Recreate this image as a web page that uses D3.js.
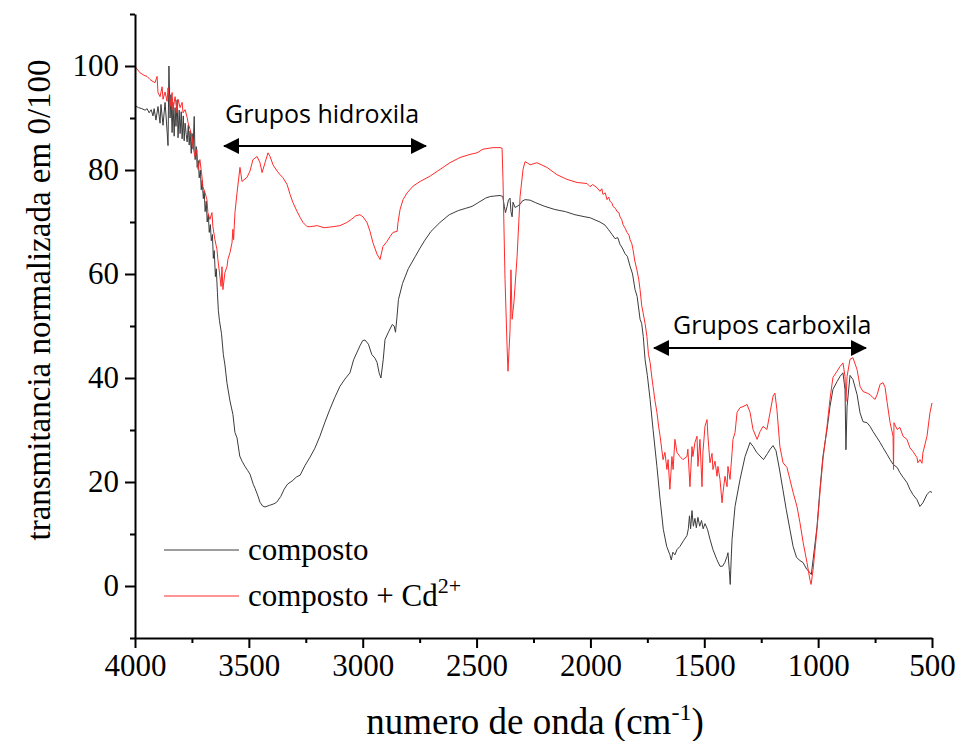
<!DOCTYPE html>
<html>
<head>
<meta charset="utf-8">
<script src="https://cdn.jsdelivr.net/npm/d3@7"></script>
<style>
  html, body { margin: 0; padding: 0; background: #fff; }
  svg { display: block; }
  .tick text { font-family: "Liberation Serif", "Times New Roman", serif; }
</style>
</head>
<body>
<svg id="chart" width="957" height="741"></svg>
<script>
// FTIR spectrum: composto (black) and composto + Cd2+ (red)
const compostoWn = [4000,3985,3970,3956,3947,3938,3929,3921,3916,3908,3899,3890,3886,3877,3868,3863,3855,3851,3846,3842,3837,3833,3828,3824,3820,3815,3811,3806,3802,3797,3793,3788,3784,3780,3775,3771,3766,3762,3758,3753,3749,3745,3740,3736,3731,3727,3722,3718,3713,3709,3705,3700,3696,3692,3687,3683,3678,3674,3669,3665,3660,3656,3652,3647,3643,3638,3634,3629,3620,3612,3605,3596,3583,3570,3561,3552,3540,3530,3517,3505,3495,3480,3473,3460,3451,3440,3429,3410,3390,3378,3360,3345,3330,3310,3290,3275,3253,3231,3210,3188,3166,3144,3122,3100,3078,3056,3040,3012,3000,2990,2975,2960,2946,2937,2928,2920,2910,2902,2885,2870,2862,2856,2850,2843,2825,2800,2770,2748,2727,2700,2661,2620,2580,2550,2520,2490,2460,2440,2420,2397,2385,2378,2373,2366,2360,2353,2349,2344,2340,2331,2322,2309,2300,2287,2265,2240,2200,2156,2110,2068,2024,2000,1980,1958,1936,1920,1905,1892,1880,1870,1860,1848,1838,1826,1815,1804,1795,1782,1775,1768,1760,1750,1738,1725,1708,1694,1680,1665,1651,1645,1638,1629,1620,1607,1590,1576,1570,1565,1560,1554,1548,1541,1535,1528,1520,1512,1505,1497,1486,1475,1462,1445,1431,1420,1410,1400,1396,1390,1386,1382,1378,1365,1343,1321,1299,1285,1270,1255,1240,1222,1211,1198,1185,1170,1155,1140,1124,1110,1095,1080,1066,1050,1036,1030,1022,1005,992,979,961,948,935,917,904,891,882,878,873,860,847,829,816,803,785,772,759,741,728,715,697,684,671,653,641,627,610,597,584,566,553,540,522,509,500];
const compostoT = [92.4,92.0,91.8,91.5,91.8,91.0,91.6,90.4,91.8,89.6,92.2,89.0,92.6,88.6,93.0,90.0,84.7,100.0,90.0,94.5,87.2,93.0,86.5,92.0,88.4,93.5,86.2,91.5,87.0,91.2,86.0,90.4,85.6,89.0,86.8,85.4,88.6,84.8,87.5,83.2,87.0,84.0,90.3,82.0,84.5,80.5,81.8,78.5,80.0,76.2,78.0,74.5,76.0,72.0,74.0,70.0,71.5,68.0,69.5,66.4,67.6,63.0,64.5,59.5,61.0,56.4,53.0,51.0,48.5,44.5,42.5,39.0,35.6,33.0,29.5,28.5,25.0,24.0,23.0,22.2,21.5,19.5,18.8,17.3,16.1,15.4,15.2,15.5,15.8,16.1,17.2,18.6,19.6,20.2,21.0,21.3,23.2,24.8,26.5,28.8,31.5,34.0,36.3,38.4,39.8,41.0,43.5,46.2,47.2,47.3,46.5,44.5,43.8,43.0,41.0,40.0,43.5,47.4,49.0,50.3,50.0,48.8,51.5,55.1,58.2,61.0,63.3,65.0,66.5,68.2,69.9,71.4,72.2,72.6,73.0,73.8,74.6,74.9,75.0,75.1,74.9,73.0,71.8,73.0,74.2,74.6,72.0,71.0,73.8,72.8,73.0,73.4,74.0,74.3,74.2,73.7,73.0,72.4,72.0,71.4,71.0,70.8,70.4,70.0,69.4,68.5,67.6,66.8,67.0,65.7,65.0,63.9,63.4,61.5,60.0,57.0,55.7,51.3,50.5,48.0,43.5,40.5,35.9,30.1,23.0,16.6,10.9,7.6,6.0,5.0,6.5,6.0,7.0,7.6,8.8,9.7,11.0,13.5,11.0,14.5,11.5,13.0,11.2,13.2,11.5,12.6,11.0,12.0,10.9,9.0,7.0,5.1,3.8,3.8,4.5,5.7,6.4,3.0,0.3,5.0,9.0,15.3,20.5,24.9,27.6,26.8,25.7,25.0,24.3,25.5,26.3,27.0,26.0,22.5,18.6,14.7,10.9,7.6,5.5,4.9,4.5,3.2,2.6,2.2,5.1,11.4,18.6,24.9,30.1,34.5,37.8,39.3,40.3,41.0,37.8,26.2,34.5,40.5,39.7,36.8,33.3,31.6,31.4,30.7,29.7,28.5,27.6,26.6,25.3,24.3,23.4,22.8,21.8,20.9,19.9,18.6,17.6,16.6,15.3,16.0,17.6,18.2,18.0];

const cdWn = [4000,3978,3960,3947,3934,3921,3912,3903,3899,3890,3881,3877,3868,3859,3855,3846,3837,3833,3824,3815,3811,3802,3793,3789,3780,3771,3767,3758,3749,3745,3737,3728,3723,3715,3706,3702,3693,3684,3680,3671,3662,3658,3649,3640,3636,3627,3622,3618,3614,3605,3596,3592,3583,3574,3570,3567,3561,3552,3539,3530,3508,3495,3482,3464,3451,3442,3429,3416,3407,3394,3376,3363,3350,3332,3319,3306,3288,3275,3262,3244,3231,3200,3170,3130,3100,3070,3050,3030,3012,2999,2981,2968,2955,2937,2924,2911,2893,2880,2867,2849,2845,2836,2823,2805,2779,2748,2705,2661,2617,2573,2529,2498,2472,2428,2397,2388,2384,2375,2366,2362,2353,2349,2344,2336,2322,2309,2296,2287,2278,2265,2235,2191,2147,2103,2059,2015,2002,1990,1971,1958,1950,1945,1935,1927,1920,1914,1905,1901,1890,1883,1875,1870,1862,1857,1850,1839,1830,1826,1818,1813,1805,1796,1788,1782,1775,1769,1760,1752,1745,1738,1730,1725,1716,1708,1700,1694,1681,1673,1664,1659,1651,1642,1637,1629,1620,1607,1594,1576,1572,1563,1554,1550,1541,1532,1528,1519,1510,1506,1497,1488,1484,1475,1466,1462,1453,1444,1440,1431,1422,1418,1409,1400,1396,1387,1378,1374,1365,1356,1343,1330,1312,1299,1286,1268,1255,1242,1225,1211,1198,1190,1181,1168,1154,1137,1124,1110,1093,1080,1066,1049,1036,1031,1022,1005,992,979,961,948,935,917,904,891,882,878,873,860,847,829,816,803,785,772,759,750,741,728,715,706,697,684,671,669,667,653,641,627,610,597,584,566,562,553,544,540,522,509,500];
const cdT = [99.9,98.7,98.2,98.0,97.4,97.0,96.8,98.0,94.9,94.1,96.0,93.6,95.0,93.2,95.8,92.2,94.9,91.6,94.1,91.0,93.6,92.0,93.0,91.0,91.6,90.1,89.1,87.8,86.3,84.5,82.6,83.9,80.1,82.0,78.8,76.8,75.7,74.3,71.8,70.5,71.8,69.1,66.6,64.7,62.8,59.5,57.6,61.4,57.0,60.3,61.4,62.8,64.1,66.0,68.6,66.6,71.8,75.6,80.5,77.8,78.6,79.8,82.0,82.6,81.4,79.5,81.4,83.3,82.6,81.0,79.8,79.1,78.5,77.2,75.3,73.7,72.0,70.9,69.9,69.1,69.1,69.3,68.9,69.1,69.3,69.9,70.5,71.2,71.4,71.0,69.9,68.2,66.0,63.8,62.8,65.3,66.3,67.2,68.0,68.2,69.9,72.4,74.3,75.6,76.9,77.8,78.8,80.1,81.4,82.4,83.0,83.3,84.0,84.3,84.3,84.2,78.2,58.9,46.0,41.3,49.3,60.8,51.3,54.5,63.4,74.9,80.1,81.6,81.4,81.0,81.4,80.5,79.1,78.2,77.6,77.4,76.8,77.2,76.6,75.9,76.4,75.3,75.6,74.3,74.8,74.0,73.6,73.0,72.6,72.0,71.8,71.0,70.4,69.5,69.0,68.0,67.4,66.6,65.8,64.7,62.5,60.8,59.0,57.0,54.0,52.6,50.5,48.0,44.5,43.0,40.0,38.4,35.5,33.4,30.5,28.8,24.3,25.7,22.4,24.3,18.6,24.9,22.4,28.2,25.7,24.9,24.3,24.9,26.3,19.1,26.8,24.9,27.6,28.8,23.0,28.2,19.1,25.7,30.7,32.0,28.8,23.7,25.5,22.4,24.0,21.1,23.0,20.5,16.0,17.9,21.1,19.1,23.0,20.5,25.7,28.2,29.5,33.4,34.3,34.5,34.9,33.4,30.1,28.2,29.7,30.7,30.1,33.4,36.5,37.1,33.9,26.8,23.7,22.8,20.5,18.0,15.3,12.2,8.4,4.5,1.2,0.3,3.2,10.9,18.0,24.3,30.7,35.9,40.1,41.3,42.2,42.9,40.3,35.5,40.3,43.6,43.9,41.6,38.4,37.4,37.1,36.8,36.2,35.9,36.8,38.8,39.1,38.2,35.3,31.4,28.8,22.4,31.4,30.1,30.5,28.8,28.2,26.6,25.9,24.7,23.7,24.3,23.6,25.6,28.8,33.3,35.2];

// Axis ticks
const xMajorTicks = [4000, 3500, 3000, 2500, 2000, 1500, 1000, 500];
const xMinorTicks = [3750, 3250, 2750, 2250, 1750, 1250, 750];
const yMajorTicks = [0, 20, 40, 60, 80, 100];
const yMinorTicks = [-10, 10, 30, 50, 70, 90, 110];

const svg = d3.select("#chart");
const serif = '"Liberation Serif", "Times New Roman", serif';
const sans = '"Open Sans", "Noto Sans", sans-serif';

const x = d3.scaleLinear().domain([4000, 500]).range([135, 932]);
const y = d3.scaleLinear().domain([-10, 110]).range([638, 14]);

// Spectra
const line = d3.line().x(d => x(d[0])).y(d => y(d[1]));
const series = [
  { wn: compostoWn, t: compostoT, color: "#3c3c3c" },
  { wn: cdWn, t: cdT, color: "#ff2a2a" }
];
series.forEach(s => {
  svg.append("path")
    .datum(s.wn.map((w, i) => [w, s.t[i]]))
    .attr("fill", "none")
    .attr("stroke", s.color)
    .attr("stroke-width", 1)
    .attr("stroke-linejoin", "round")
    .attr("d", line);
});

// X axis
const xAxis = svg.append("g").attr("transform", "translate(0,638)");
xAxis.call(d3.axisBottom(x).tickValues(xMajorTicks).tickSize(10).tickSizeOuter(0).tickPadding(6).tickFormat(d3.format("d")));
xAxis.append("g").call(d3.axisBottom(x).tickValues(xMinorTicks).tickSize(5).tickSizeOuter(0).tickFormat(""))
  .select(".domain").remove();

// Y axis
const yAxis = svg.append("g").attr("transform", "translate(135,0)");
yAxis.call(d3.axisLeft(y).tickValues(yMajorTicks).tickSize(10).tickSizeOuter(0).tickPadding(6).tickFormat(d3.format("d")));
yAxis.append("g").call(d3.axisLeft(y).tickValues(yMinorTicks).tickSize(5).tickSizeOuter(0).tickFormat(""))
  .select(".domain").remove();

svg.selectAll("g").attr("font-family", serif);
svg.selectAll(".domain, .tick line").attr("stroke", "#000").attr("stroke-width", 2);
svg.selectAll(".tick text").attr("font-family", serif).attr("font-size", 31).attr("fill", "#000");

// Axis titles
svg.append("text")
  .attr("transform", "translate(50,300) rotate(-90)")
  .attr("text-anchor", "middle")
  .attr("font-family", serif).attr("font-size", 33)
  .text("transmitancia normalizada em 0/100");

const xt = svg.append("text")
  .attr("x", 535).attr("y", 734)
  .attr("text-anchor", "middle")
  .attr("font-family", serif).attr("font-size", 37);
xt.append("tspan").text("numero de onda (cm");
xt.append("tspan").attr("dy", -14).attr("font-size", 24).text("-1");
xt.append("tspan").attr("dy", 14).text(")");

// Legend
const legend = svg.append("g");
[
  { y: 550, color: "#3c3c3c", label: "composto", sup: "" },
  { y: 596, color: "#ff2a2a", label: "composto + Cd", sup: "2+" }
].forEach(d => {
  legend.append("line")
    .attr("x1", 164).attr("x2", 239).attr("y1", d.y).attr("y2", d.y)
    .attr("stroke", d.color).attr("stroke-width", 1);
  const t = legend.append("text")
    .attr("x", 248).attr("y", d.y + 10)
    .attr("font-family", serif).attr("font-size", 31);
  t.append("tspan").text(d.label);
  if (d.sup) t.append("tspan").attr("dy", -13).attr("font-size", 22).text(d.sup);
});

// Band annotations with double arrows
const defs = svg.append("defs");
defs.append("marker")
  .attr("id", "head")
  .attr("viewBox", "0 0 16 16")
  .attr("refX", 15).attr("refY", 8)
  .attr("markerWidth", 16).attr("markerHeight", 16)
  .attr("markerUnits", "userSpaceOnUse")
  .attr("orient", "auto-start-reverse")
  .append("path").attr("d", "M0,0 L16,8 L0,16 Z").attr("fill", "#000");

const bands = [
  { label: "Grupos hidroxila", x1: 223, x2: 427, ay: 146, tx: 225, ty: 123 },
  { label: "Grupos carboxila", x1: 653, x2: 867, ay: 348, tx: 673, ty: 334 }
];
bands.forEach(b => {
  svg.append("line")
    .attr("x1", b.x1 + 1).attr("x2", b.x2 - 1).attr("y1", b.ay).attr("y2", b.ay)
    .attr("stroke", "#000").attr("stroke-width", 2)
    .attr("marker-start", "url(#head)").attr("marker-end", "url(#head)");
  svg.append("text")
    .attr("x", b.tx).attr("y", b.ty)
    .attr("font-family", sans).attr("font-size", 25)
    .text(b.label);
});
</script>
</body>
</html>
